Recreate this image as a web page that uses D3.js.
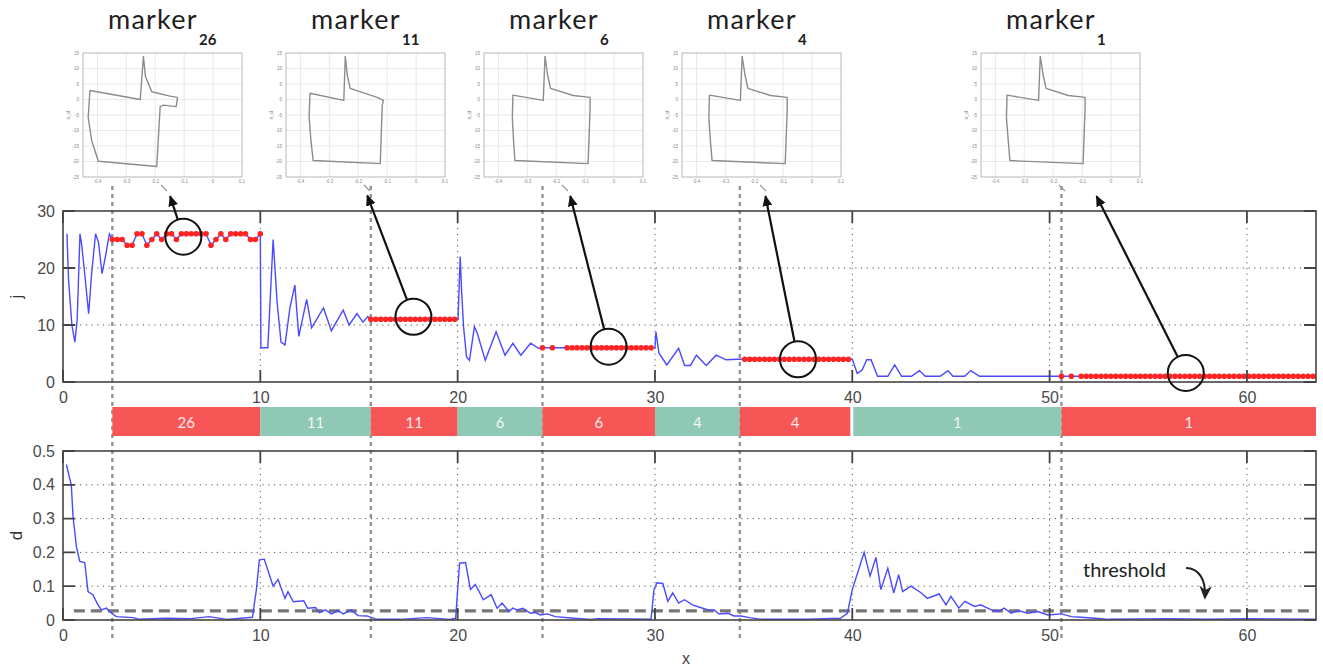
<!DOCTYPE html>
<html><head><meta charset="utf-8">
<script src="https://cdn.jsdelivr.net/npm/d3@7"></script>
<style>body{margin:0;background:#fff}svg{display:block}</style>
</head><body><svg id="c" width="1323" height="668"></svg>
<script>
// ---------------- DATA ----------------
const xTicks = [0, 10, 20, 30, 40, 50, 60];
const jTicks = [0, 10, 20, 30];
const dTicks = [0, 0.1, 0.2, 0.3, 0.4, 0.5];
const markerLabels = ["26", "11", "6", "4", "1"];
const markerStarts = [2.5, 15.6, 24.3, 34.3, 50.6];   // gray dashed lines / start of red dots

// blue j line vertices outside the red (fixed) segments
const jLine = [
  [0.2,26],[0.28,18],[0.45,10],[0.6,7],[0.72,11],[0.86,26],[0.95,24],[1.1,19],[1.3,12],[1.45,19],
  [1.65,26],[1.8,24.5],[1.98,19],[2.15,22],[2.35,26],
  [10.03,6],[10.38,6],[10.65,25],[10.85,14],[11.05,7],[11.25,6.5],[11.5,13],[11.75,17],[11.95,8],
  [12.35,14.5],[12.6,9.5],[13.2,13],[13.6,9],[14.2,12.6],[14.5,10],[14.9,12],[15.2,10.5],[15.45,11.5],
  [20.02,11],[20.07,16],[20.13,22],[20.2,16],[20.3,9.7],[20.45,4.4],[20.6,3.8],[20.85,9.7],[21.0,8.5],
  [21.4,3.8],[21.95,8.8],[22.4,4.7],[22.8,6.8],[23.2,4.7],[23.7,6.8],[24.1,5.9],
  [30.0,6],[30.05,8.8],[30.2,5.1],[30.6,3],[31.2,5.9],[31.5,2.9],[31.8,2.9],[32.1,4.7],[32.6,2.9],
  [33.1,4.7],[33.6,3.9],[34.2,4],
  [40.0,4],[40.25,1.5],[40.5,2.1],[40.73,3.9],[40.95,3.9],[41.28,1],[41.8,1],[42.15,3],[42.5,1],
  [43.0,1],[43.4,2],[43.7,1],[44.45,1],[44.85,2],[45.1,1],[45.7,1],[46.0,2],[46.45,1]
];

// red dot values, one per 0.25 sample from each marker start (null = no dot)
const redStep = 0.25;
const red26 = [25,25,25,24,24,26,26,24,25,26,25,26,26,25,26,26,26,26,26,26,24,25,26,25,26,26,26,26,25,25,26];
const red11 = [11,11,11,11,11,11,11,11,11,11,11,11,11,11,11,11,11,11];
const red6  = [6,null,6,null,null,6,6,6,6,6,6,6,6,6,6,6,6,6,6,6,6,6,6];
const red4  = [null,4,4,4,4,4,4,4,4,4,4,4,4,4,4,4,4,4,4,4,4,4,4];
const red1  = [1,null,1,null,1,1,1,1,1,1,1,1,1,1,1,1,1,1,1,1,1,1,1,1,1,1,1,1,1,1,
               1,1,1,1,1,1,1,1,1,1,1,1,1,1,1,1,1,1,1,1,1,1];
const redSegments = [red26, red11, red6, red4, red1];

// decision band
const bandStart  = [2.5, 10, 15.6, 20, 24.3, 30, 34.3, 40.05, 50.6];
const bandEnd    = [10, 15.6, 20, 24.3, 30, 34.3, 39.9, 50.6, 63.5];
const bandLabels = ["26","11","11","6","6","4","4","1","1"];
const bandKind   = ["r","t","r","t","r","t","r","t","r"];

// d series
const dSeries = [
  [0.17,0.46],[0.42,0.40],[0.51,0.305],[0.68,0.217],[0.85,0.173],[1.1,0.17],[1.27,0.084],[1.52,0.074],
  [1.78,0.044],[1.95,0.03],[2.2,0.035],[2.46,0.02],[2.7,0.01],[3.55,0.007],[3.9,0.002],[5.2,0.005],
  [6.5,0.004],[7.4,0.01],[8.3,0.002],[9.6,0.008],[9.8,0.09],[9.95,0.178],[10.2,0.18],[10.65,0.1],
  [10.9,0.12],[11.25,0.064],[11.4,0.084],[11.67,0.054],[12.2,0.057],[12.4,0.035],[12.8,0.037],[13.0,0.022],
  [13.3,0.03],[13.6,0.018],[13.95,0.028],[14.2,0.018],[14.6,0.03],[14.95,0.013],[15.4,0.012],[15.9,0.002],
  [17.1,0.002],[18.45,0.007],[19.6,0.002],[19.9,0.005],[20.0,0.09],[20.1,0.168],[20.4,0.17],[20.65,0.09],
  [20.9,0.105],[21.3,0.06],[21.7,0.075],[22.0,0.035],[22.25,0.05],[22.6,0.025],[22.8,0.035],[23.0,0.03],
  [23.3,0.035],[23.7,0.02],[23.95,0.022],[24.2,0.015],[24.55,0.018],[24.95,0.01],[25.9,0.005],[26.75,0.002],
  [27.1,0.004],[29.8,0.002],[29.95,0.09],[30.1,0.11],[30.4,0.108],[30.65,0.055],[30.9,0.08],[31.2,0.05],
  [31.5,0.06],[31.9,0.045],[32.3,0.037],[32.7,0.03],[33.0,0.03],[33.25,0.018],[33.7,0.02],[34.0,0.012],
  [34.35,0.012],[34.8,0.007],[35.4,0.002],[37.75,0.002],[39.4,0.005],[39.75,0.02],[40.0,0.09],[40.3,0.145],
  [40.6,0.2],[40.9,0.13],[41.2,0.185],[41.45,0.09],[41.8,0.153],[42.1,0.08],[42.35,0.134],[42.55,0.084],
  [42.97,0.1],[43.5,0.08],[43.8,0.064],[44.4,0.077],[44.75,0.045],[45.0,0.07],[45.4,0.035],[45.7,0.055],
  [46.2,0.04],[46.5,0.045],[47.05,0.03],[47.4,0.025],[47.7,0.035],[48.05,0.02],[48.4,0.028],[48.9,0.02],
  [49.4,0.025],[49.9,0.015],[50.6,0.018],[51.1,0.01],[51.6,0.008],[52.3,0.005],[53,0.002],[56,0.004],
  [58,0.002],[60,0.004],[63.5,0.002]
];
const thresholdValue = 0.027;
const thresholdFrom = 0.55;

// annotations (data coords of top panel)
const circleX = [6.1, 17.76, 27.65, 37.25, 56.9];
const circleJ = [25.5, 11.45, 6.2, 4.0, 1.6];
const tipX = [5.43, 15.42, 25.71, 35.6, 52.38];
const tipJ = [32.6, 32.7, 32.6, 32.6, 32.6];

// insets (trajectory shapes)
const insetXTicks = [-0.4, -0.3, -0.2, -0.1, 0, 0.1];
const insetYTicks = [15, 10, 5, 0, -5, -10, -15, -20, -25];
const shape26 = [[-0.241,13.9],[-0.252,0],[-0.426,2.9],[-0.432,-5.8],[-0.42,-13.2],[-0.397,-19.9],
  [-0.195,-21.6],[-0.183,-2.3],[-0.172,-1.8],[-0.128,-2.3],[-0.123,0.7],[-0.149,1.1],[-0.212,2.5],[-0.234,7.4]];
const shape11 = [[-0.245,13.9],[-0.25,-0.3],[-0.367,2.0],[-0.37,-5.5],[-0.364,-13],[-0.356,-19.7],
  [-0.124,-20.7],[-0.117,-1.9],[-0.113,-0.3],[-0.135,0.7],[-0.228,3.6],[-0.238,7.9]];
const shape6 = [[-0.239,13.9],[-0.245,-0.3],[-0.35,1.4],[-0.352,-6],[-0.348,-13],[-0.343,-19.7],
  [-0.09,-20.7],[-0.083,-2.9],[-0.083,0.7],[-0.141,1.3],[-0.22,3.6],[-0.23,7.9]];
const shape4 = [[-0.242,13.9],[-0.248,-0.3],[-0.355,1.4],[-0.357,-6],[-0.352,-13],[-0.346,-19.7],
  [-0.093,-20.7],[-0.086,-2.9],[-0.086,0.7],[-0.144,1.3],[-0.222,3.6],[-0.232,7.9]];
const shape1 = [[-0.245,13.9],[-0.251,-0.3],[-0.36,1.4],[-0.362,-6],[-0.356,-13],[-0.35,-19.7],
  [-0.097,-20.7],[-0.09,-2.9],[-0.09,0.7],[-0.148,1.3],[-0.225,3.6],[-0.235,7.9]];
const insetShapes = [shape26, shape11, shape6, shape4, shape1];

// ---------------- DRAW ----------------
const svg = d3.select("#c");
const left = 63, right = 1316;
const X  = d3.scaleLinear().domain([0, 63.5]).range([left, right]);
const YJ = d3.scaleLinear().domain([0, 30]).range([382, 211]);
const YD = d3.scaleLinear().domain([0, 0.5]).range([620, 451]);

const defs = svg.append("defs");
defs.append("marker").attr("id","ah").attr("viewBox","0 0 10 10").attr("refX",9).attr("refY",5)
  .attr("markerWidth",5).attr("markerHeight",5).attr("orient","auto").attr("markerUnits","strokeWidth")
  .append("path").attr("d","M0,0.5 L10,5 L0,9.5 Z").attr("fill","#111");
defs.append("marker").attr("id","ah2").attr("viewBox","0 0 10 10").attr("refX",8).attr("refY",5)
  .attr("markerWidth",7).attr("markerHeight",7).attr("orient","auto").attr("markerUnits","strokeWidth")
  .append("path").attr("d","M0,0.5 L10,5 L0,9.5 L3,5 Z").attr("fill","#222");

const tickFont = "'Liberation Sans', Arial, sans-serif";
const gillFont = "Lato, 'Open Sans', sans-serif";

function panel(Y, yt, fmt, xLabY) {
  const [y0, y1] = Y.range(); // bottom, top
  const g = svg.append("g");
  g.selectAll(".hg").data(yt.slice(1, -1)).join("line")
    .attr("x1", left).attr("x2", right).attr("y1", d => Y(d)).attr("y2", d => Y(d))
    .attr("stroke", "#555").attr("stroke-width", 1).attr("stroke-dasharray", "1.2,4.5");
  g.selectAll(".vg").data(xTicks.slice(1)).join("line")
    .attr("x1", d => X(d)).attr("x2", d => X(d)).attr("y1", y1).attr("y2", y0)
    .attr("stroke", "#555").attr("stroke-width", 1).attr("stroke-dasharray", "1.2,4.5");
  const ya = d3.axisLeft(Y).tickValues(yt).tickFormat(fmt).tickSize(0).tickPadding(8);
  const yg = svg.append("g").attr("transform", `translate(${left},0)`).call(ya);
  yg.select(".domain").remove();
  yg.selectAll("text").attr("font-family", tickFont).attr("font-size", 16).attr("fill", "#4a4a4a");
  const xa = d3.axisBottom(X).tickValues(xTicks).tickFormat(d3.format("d")).tickSize(0).tickPadding(0);
  const xg = svg.append("g").attr("transform", `translate(0,${xLabY})`).call(xa);
  xg.select(".domain").remove();
  xg.selectAll("text").attr("font-family", tickFont).attr("font-size", 16).attr("fill", "#4a4a4a").attr("dy", "0");
  return g;
}

function frame(Y, yt) {
  const [y0, y1] = Y.range();
  const g = svg.append("g");
  const tl = 12;
  g.selectAll(".yt").data(yt).join("path")
    .attr("d", d => `M${left},${Y(d)}h${tl}M${right},${Y(d)}h${-tl}`)
    .attr("stroke", "#444").attr("stroke-width", 1.8);
  g.selectAll(".xt").data(xTicks).join("path")
    .attr("d", d => `M${X(d)},${y0}v${-tl}M${X(d)},${y1}v${tl}`)
    .attr("stroke", "#444").attr("stroke-width", 1.8);
  g.append("rect").attr("x", left).attr("y", y1).attr("width", right - left).attr("height", y0 - y1)
    .attr("fill", "none").attr("stroke", "#444").attr("stroke-width", 1.6);
}

panel(YJ, jTicks, d3.format("d"), 403);
panel(YD, dTicks, d => d === 0 ? "0" : d3.format(".1f")(d), 641);

// marker dashed lines
svg.append("g").selectAll("line").data(markerStarts).join("line")
  .attr("x1", d => X(d)).attr("x2", d => X(d)).attr("y1", 186).attr("y2", 641)
  .attr("stroke", "#939393").attr("stroke-width", 2.4).attr("stroke-dasharray", "4,4");

// band
const band = svg.append("g");
bandStart.forEach((s, i) => {
  band.append("rect").attr("x", X(s)).attr("y", 407).attr("width", X(bandEnd[i]) - X(s)).attr("height", 29)
    .attr("fill", bandKind[i] === "r" ? "#F75656" : "#8FC9B6");
  band.append("text").attr("x", (X(s) + X(bandEnd[i])) / 2).attr("y", 422)
    .attr("text-anchor", "middle").attr("dominant-baseline", "central")
    .attr("font-family", gillFont).attr("font-size", 15)
    .attr("fill", bandKind[i] === "r" ? "#f7eaea" : "#eef6f3").text(bandLabels[i]);
});

// threshold
svg.append("line").attr("x1", X(thresholdFrom)).attr("x2", right - 4)
  .attr("y1", YD(thresholdValue)).attr("y2", YD(thresholdValue))
  .attr("stroke", "#777").attr("stroke-width", 3.4).attr("stroke-dasharray", "11,6");

// j line (blue) including red segment values
const redPts = [];
redSegments.forEach((vals, si) => {
  vals.forEach((v, k) => { if (v !== null) redPts.push([markerStarts[si] + k * redStep, v]); });
});
const jAll = jLine.concat(redPts).sort((a, b) => a[0] - b[0]);
svg.append("path").datum(jAll)
  .attr("d", d3.line().x(d => X(d[0])).y(d => YJ(d[1])))
  .attr("fill", "none").attr("stroke", "#4a4aff").attr("stroke-width", 1.4);
svg.append("g").selectAll("circle").data(redPts).join("circle")
  .attr("cx", d => X(d[0])).attr("cy", d => YJ(d[1])).attr("r", 2.8).attr("fill", "#ff2424");

// d line
svg.append("path").datum(dSeries)
  .attr("d", d3.line().x(d => X(d[0])).y(d => YD(d[1])))
  .attr("fill", "none").attr("stroke", "#4a4aff").attr("stroke-width", 1.4);

frame(YJ, jTicks);
frame(YD, dTicks);

// axis titles
svg.append("text").attr("transform", `translate(22,${(YJ(0)+YJ(30))/2}) rotate(-90)`).attr("text-anchor","middle")
  .attr("font-family", tickFont).attr("font-size", 17).attr("fill", "#333").text("j");
svg.append("text").attr("transform", `translate(22,${(YD(0)+YD(0.5))/2}) rotate(-90)`).attr("text-anchor","middle")
  .attr("font-family", tickFont).attr("font-size", 17).attr("fill", "#333").text("d");
svg.append("text").attr("x", 686).attr("y", 664).attr("text-anchor","middle")
  .attr("font-family", tickFont).attr("font-size", 16).attr("fill", "#444").text("x");

// threshold label + curved arrow
svg.append("text").attr("x", 1083).attr("y", 577).attr("font-family", gillFont).attr("font-size", 20)
  .attr("fill", "#222").text("threshold");
svg.append("path").attr("d", "M1186,568 C1199,568 1206,580 1205,597")
  .attr("fill", "none").attr("stroke", "#222").attr("stroke-width", 2).attr("marker-end", "url(#ah2)");

// insets
const insetLeft = [83, 286, 484, 682, 981];
insetLeft.forEach((L, i) => {
  const g = svg.append("g");
  const ix = d3.scaleLinear().domain([-0.45, 0.1]).range([L, L + 159]);
  const iy = d3.scaleLinear().domain([-25, 15]).range([177, 53]);
  g.selectAll(".gx").data(insetXTicks.slice(0, -1)).join("line")
    .attr("x1", d => ix(d)).attr("x2", d => ix(d)).attr("y1", 53).attr("y2", 177)
    .attr("stroke", "#e0e0e0").attr("stroke-width", 0.7);
  g.selectAll(".gy").data(insetYTicks.slice(1, -1)).join("line")
    .attr("y1", d => iy(d)).attr("y2", d => iy(d)).attr("x1", L).attr("x2", L + 159)
    .attr("stroke", "#e0e0e0").attr("stroke-width", 0.7);
  g.append("rect").attr("x", L).attr("y", 53).attr("width", 159).attr("height", 124)
    .attr("fill", "none").attr("stroke", "#b0b0b0").attr("stroke-width", 0.9);
  g.selectAll(".lx").data(insetXTicks).join("text")
    .attr("x", d => ix(d)).attr("y", 183).attr("text-anchor", "middle")
    .attr("font-family", tickFont).attr("font-size", 4.5).attr("fill", "#888").text(d => d);
  g.selectAll(".ly").data(insetYTicks).join("text")
    .attr("x", L - 4).attr("y", d => iy(d) + 1.5).attr("text-anchor", "end")
    .attr("font-family", tickFont).attr("font-size", 4.5).attr("fill", "#888").text(d => d);
  g.append("text").attr("transform", `translate(${L-13},${iy(-5)}) rotate(-90)`).attr("text-anchor","middle")
    .attr("font-family", tickFont).attr("font-size", 5.5).attr("fill", "#888").text("x_d");
  g.append("path").datum(insetShapes[i])
    .attr("d", d3.line().x(d => ix(d[0])).y(d => iy(d[1])).curve(d3.curveLinearClosed))
    .attr("fill", "none").attr("stroke", "#8c8c8c").attr("stroke-width", 1.4).attr("stroke-linejoin", "round");
  g.append("line").attr("x1", L + 78).attr("y1", 185).attr("x2", L + 84).attr("y2", 191)
    .attr("stroke", "#999").attr("stroke-width", 1.2);
  g.append("text").attr("x", L + 25).attr("y", 29).attr("font-family", gillFont)
    .attr("font-size", 27).attr("letter-spacing", 1.2).attr("fill", "#1e1e1e").text("marker");
  g.append("text").attr("x", L + 116).attr("y", 45).attr("font-family", gillFont).attr("font-size", 15)
    .attr("font-weight", "bold").attr("fill", "#1e1e1e").text(markerLabels[i]);
});

// circles & arrows
circleX.forEach((cx, i) => {
  const px = X(cx), py = YJ(circleJ[i]);
  const tx = X(tipX[i]), ty = YJ(tipJ[i]);
  const r = 18;
  const dx = tx - px, dy = ty - py, len = Math.hypot(dx, dy);
  svg.append("circle").attr("cx", px).attr("cy", py).attr("r", r)
    .attr("fill", "none").attr("stroke", "#111").attr("stroke-width", 2);
  svg.append("line").attr("x1", px + dx / len * r).attr("y1", py + dy / len * r)
    .attr("x2", tx).attr("y2", ty).attr("stroke", "#111").attr("stroke-width", 2.2)
    .attr("marker-end", "url(#ah)");
});
</script></body></html>
